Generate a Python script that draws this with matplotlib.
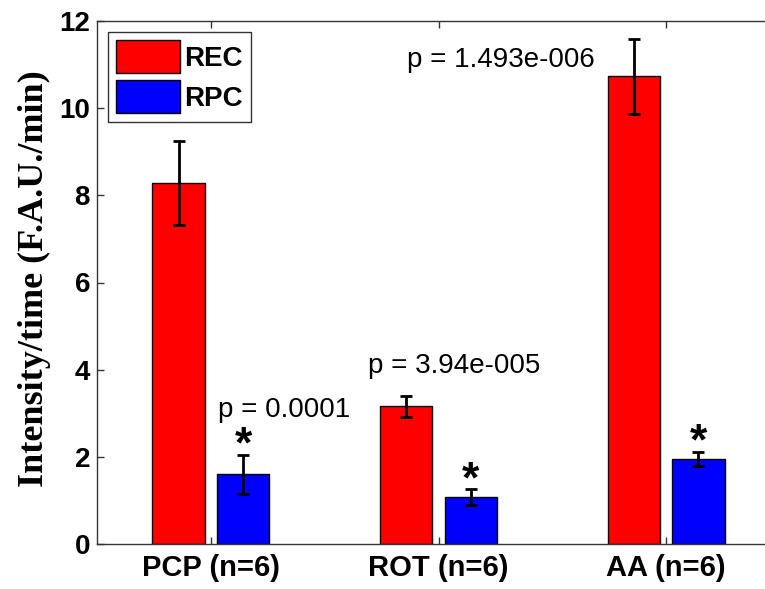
import numpy as np
import matplotlib.pyplot as plt

# data
groups = ['PCP (n=6)', 'ROT (n=6)', 'AA (n=6)']
rec_mean = [8.28, 3.16, 10.73]
rec_err = [0.96, 0.24, 0.86]
rpc_mean = [1.60, 1.08, 1.95]
rpc_err = [0.45, 0.18, 0.17]
p_text = ['p = 0.0001', 'p = 3.94e-005', 'p = 1.493e-006']
p_pos = [(1.03, 2.92), (1.69, 3.93), (1.86, 10.94)]

x = np.arange(1, len(groups) + 1)
w = 0.23
off = 0.142

fig = plt.figure(figsize=(7.65, 5.89), dpi=100)
ax = fig.add_axes([97 / 765, 45 / 589, 683 / 765, 523 / 589])

err_kw = dict(ecolor='black', elinewidth=2, capsize=4, capthick=2)
ax.bar(x - off, rec_mean, w, yerr=rec_err, color='#ff0000', edgecolor='black',
       linewidth=1, label='REC', error_kw=err_kw)
ax.bar(x + off, rpc_mean, w, yerr=rpc_err, color='#0000ff', edgecolor='black',
       linewidth=1, label='RPC', error_kw=err_kw)

# significance stars above the RPC error bars
for xi, m, e in zip(x, rpc_mean, rpc_err):
    ax.text(xi + off, m + e - 0.28, '*', ha='center', va='bottom',
            fontsize=32, fontweight='bold', family='Liberation Sans')

for t, (px, py) in zip(p_text, p_pos):
    ax.text(px, py, t, ha='left', va='baseline', fontsize=20,
            family='Liberation Sans')

ax.set_xlim(0.5, 3.5)
ax.set_ylim(0, 12)
ax.set_xticks(x)
ax.set_xticklabels(groups, fontsize=21, fontweight='bold', family='Liberation Sans')
ax.set_yticks(np.arange(0, 13, 2))
ax.set_yticklabels([str(v) for v in range(0, 13, 2)], fontsize=20,
                   fontweight='bold', family='Liberation Sans')
ax.tick_params(direction='in', length=5, width=1, color='0.2', top=True,
               right=True, pad=5)
ax.tick_params(axis='x', pad=7)
for s in ax.spines.values():
    s.set_color('0.2')
    s.set_linewidth(1)

ax.set_ylabel('Intensity/time (F.A.U./min)', fontsize=26, fontweight='bold',
              family='Liberation Serif')
ax.yaxis.set_label_coords(-0.068, 0.508)

leg = ax.legend(loc='upper left', prop={'family': 'Liberation Sans', 'weight': 'bold', 'size': 20},
                fancybox=False, edgecolor='0.2', framealpha=1, handlelength=2.3,
                handleheight=1.45, handletextpad=0.15, borderpad=0.3,
                labelspacing=0.25, borderaxespad=0.4)
leg.get_frame().set_linewidth(1)

fig.savefig('out.png', dpi=100)
